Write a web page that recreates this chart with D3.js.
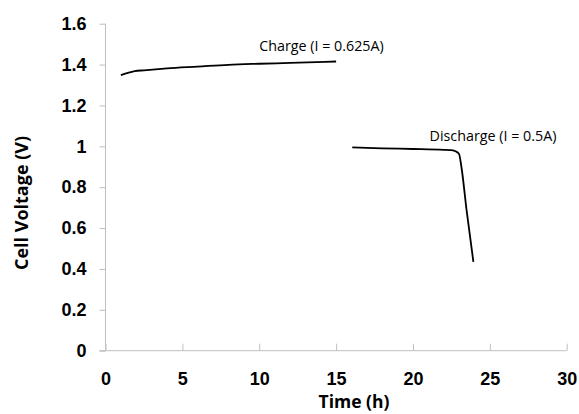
<!DOCTYPE html>
<html>
<head>
<script src="https://d3js.org/d3.v7.min.js"></script>
<style>
  body { margin: 0; background: #fff; }
  svg { font-family: "Open Sans", sans-serif; }
  .axis path, .axis line { stroke: #bfbfbf; }
  .axis text { font-size: 18px; font-weight: bold; fill: #000; }
</style>
</head>
<body>
<svg width="579" height="414"></svg>
<script>
// charge curve (I = 0.625A)
var chargeTime = [1.0, 1.4, 1.9, 2.5, 4, 6, 8, 10, 12, 15];
var chargeVolt = [1.348, 1.358, 1.368, 1.372, 1.381, 1.390, 1.399, 1.404, 1.408, 1.415];
// discharge curve (I = 0.5A)
var dischargeTime = [16.05, 18, 20, 22, 22.5, 22.8, 23.0, 23.15, 23.5, 23.93];
var dischargeVolt = [0.995, 0.990, 0.987, 0.983, 0.981, 0.975, 0.962, 0.900, 0.680, 0.435];

var xTicks = [0, 5, 10, 15, 20, 25, 30];
var yTicks = [0, 0.2, 0.4, 0.6, 0.8, 1, 1.2, 1.4, 1.6];
var yTickLabels = ['0', '0.2', '0.4', '0.6', '0.8', '1', '1.2', '1.4', '1.6'];

var svg = d3.select('svg');

var x = d3.scaleLinear().domain([0, 30]).range([105.5, 566.7]);
var y = d3.scaleLinear().domain([0, 1.6]).range([350.7, 23.7]);

// y axis
var gy = svg.append('g').attr('class', 'axis')
  .attr('transform', 'translate(' + x(0) + ',0)')
  .call(d3.axisLeft(y).tickValues(yTicks).tickSize(6).tickPadding(13)
    .tickFormat(function (d, i) { return yTickLabels[i]; }));
gy.select('.domain').attr('d', 'M0,' + y(1.6) + 'V' + y(0));

// x axis, ticks point up
var gx = svg.append('g').attr('class', 'axis')
  .attr('transform', 'translate(0,' + y(0) + ')')
  .call(d3.axisBottom(x).tickValues(xTicks).tickSizeInner(-7).tickSizeOuter(0));
gx.select('.domain').attr('d', 'M' + (x(0) - 6) + ',0H' + x(30));
gx.selectAll('.tick text').attr('y', 34).attr('dy', 0);

// axis titles
svg.append('text')
  .attr('x', 354).attr('y', 408)
  .attr('text-anchor', 'middle')
  .style('font-size', '17.5px').style('font-weight', 'bold')
  .text('Time (h)');

svg.append('text')
  .attr('transform', 'translate(28,203) rotate(-90)')
  .attr('text-anchor', 'middle')
  .style('font-size', '18px').style('font-weight', 'bold')
  .text('Cell Voltage (V)');

var line = d3.line()
  .x(function (d) { return x(d[0]); })
  .y(function (d) { return y(d[1]); })
  .curve(d3.curveMonotoneX);

svg.append('path')
  .datum(d3.zip(chargeTime, chargeVolt))
  .attr('d', line)
  .attr('fill', 'none').attr('stroke', '#000').attr('stroke-width', 1.8);

svg.append('path')
  .datum(d3.zip(dischargeTime, dischargeVolt))
  .attr('d', line)
  .attr('fill', 'none').attr('stroke', '#000').attr('stroke-width', 1.8);

// labels on the curves
svg.append('text')
  .attr('x', 321.5).attr('y', 51)
  .attr('text-anchor', 'middle')
  .style('font-size', '14.3px')
  .text('Charge (I = 0.625A)');

svg.append('text')
  .attr('x', 493).attr('y', 141)
  .attr('text-anchor', 'middle')
  .style('font-size', '14.3px')
  .text('Discharge (I = 0.5A)');
</script>
</body>
</html>
